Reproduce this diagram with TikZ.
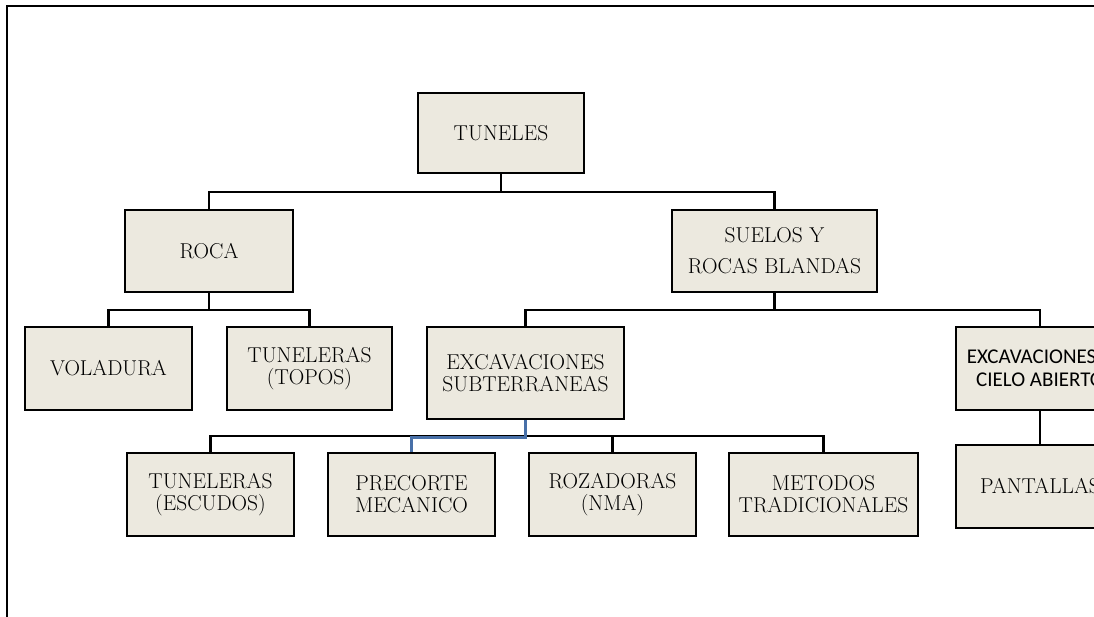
\documentclass[tikz,border=0pt]{standalone}
\usepackage{fontspec}
\newfontfamily\calibrifont{Carlito}

\definecolor{cajafondo}{RGB}{236,233,223}
\definecolor{lineaazul}{RGB}{72,112,168}

\tikzset{
  caja/.style={draw=black, line width=2.8pt, fill=cajafondo, align=center,
    inner sep=0pt, font=\fontsize{21.5}{22}\selectfont},
  conector/.style={draw=black, line width=2.3pt},
}

\begin{document}
\begin{tikzpicture}[x=1pt,y=-1pt]
		\useasboundingbox (0,0) rectangle (1094,617);
		\clip (0,0) rectangle (1094,617);

		% Marco de la pagina (solo arriba y a la izquierda)
		\draw[line width=2.6pt] (7,617) -- (7,6) -- (1100,6);

		% Nivel 0 y 1
		\node[caja, minimum width=166pt, minimum height=80pt] (tuneles) at (501,133) {TUNELES};
		\node[caja, minimum width=168pt, minimum height=82pt] (roca)    at (209,251) {ROCA};
		\node[caja, minimum width=205pt, minimum height=82pt,
		      font=\fontsize{21.5}{31}\selectfont] (suelos) at (774.5,251) {SUELOS Y\\ROCAS BLANDAS};

		% Nivel 2
		\node[caja, minimum width=167pt, minimum height=83pt] (voladura) at (108.5,368.5) {VOLADURA};
		\node[caja, minimum width=165pt, minimum height=83pt] (topos)    at (309.5,368.5) {TUNELERAS\\(TOPOS)};
		\node[caja, minimum width=197pt, minimum height=92pt] (subte)    at (525.5,373) {EXCAVACIONES\\SUBTERRANEAS};
		\node[caja, minimum width=168pt, minimum height=83pt,
		      font=\calibrifont\fontsize{21}{23}\selectfont] (cielo) at (1040,368.5) {EXCAVACIONES A\\CIELO ABIERTO};

		% Nivel 3
		\node[caja, minimum width=167pt, minimum height=83pt] (escudos)   at (210.5,494.5) {TUNELERAS\\(ESCUDOS)};
		\node[caja, minimum width=167pt, minimum height=83pt] (precorte)  at (411.5,494.5) {PRECORTE\\MECANICO};
		\node[caja, minimum width=167pt, minimum height=83pt] (rozadoras) at (612.5,494.5) {ROZADORAS\\(NMA)};
		\node[caja, minimum width=189pt, minimum height=83pt] (metodos)   at (823.5,494.5) {METODOS\\TRADICIONALES};
		\node[caja, minimum width=168pt, minimum height=83pt] (pantallas) at (1040,486.5) {PANTALLAS};

		% Barras de union
		\coordinate (barraA) at (501,192);
		\coordinate (barraB) at (209,310);
		\coordinate (barraC) at (774.5,310);
		\coordinate (barraD) at (525.5,436);

		\draw[conector] (tuneles.south) -- (barraA);
		\draw[conector] (roca.north) |- (barraA) -| (suelos.north);
		\draw[conector] (roca.south) -- (barraB);
		\draw[conector] (voladura.north) |- (barraB) -| (topos.north);
		\draw[conector] (suelos.south) -- (barraC);
		\draw[conector] (subte.north) |- (barraC) -| (cielo.north);
		\draw[conector] (escudos.north) |- (barraD) -| (metodos.north);
		\draw[conector] (rozadoras.north) -- (rozadoras.north |- barraD);
		\draw[conector] (cielo.south) -- (pantallas.north);

		% Tramo marcado en azul
		\draw[line width=2.8pt, lineaazul] (subte.south) -- ([yshift=-1.5pt]barraD) -| (precorte.north);
	\end{tikzpicture}
\end{document}
